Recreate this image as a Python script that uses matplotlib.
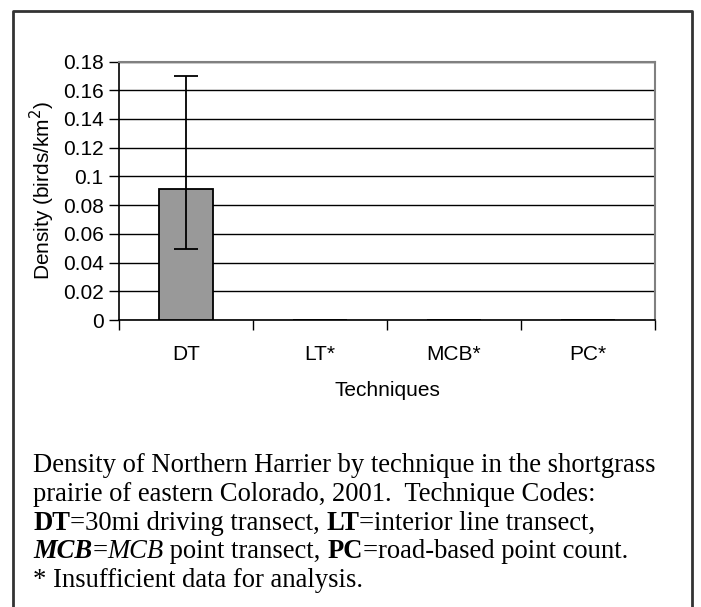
import matplotlib
matplotlib.use("Agg")
import matplotlib.pyplot as plt
from matplotlib.lines import Line2D
import numpy as np

categories = ["DT", "LT*", "MCB*", "PC*"]
density = [0.0915, 0.0, 0.0, 0.0]
err_low = [0.0424, 0.0, 0.0, 0.0]
err_high = [0.0781, 0.0, 0.0, 0.0]
yticks = [0, 0.02, 0.04, 0.06, 0.08, 0.1, 0.12, 0.14, 0.16, 0.18]
ytick_labels = ["0", "0.02", "0.04", "0.06", "0.08", "0.1", "0.12", "0.14", "0.16", "0.18"]

W, H = 701, 607
fig = plt.figure(figsize=(W / 100, H / 100), dpi=100)
sans = "Liberation Sans"
serif = "Liberation Serif"
FS = 15

ax = fig.add_axes([119 / W, 1 - 320 / H, (655 - 119) / W, (320 - 61.5) / H])
x = np.arange(len(categories))
ax.bar(x, density, width=0.40, color="#999999", edgecolor="black", linewidth=1.3, zorder=3)
has = [i for i, v in enumerate(density) if v > 0]
ax.errorbar([x[i] for i in has], [density[i] for i in has],
            yerr=[[err_low[i] for i in has], [err_high[i] for i in has]],
            fmt="none", ecolor="black", elinewidth=1.3, capsize=8.5, capthick=1.3, zorder=4)
ax.set_xlim(-0.5, len(categories) - 0.5)
ax.set_ylim(0, 0.18)
ax.set_yticks(yticks)
ax.set_yticklabels(ytick_labels, fontsize=FS, family=sans)
ax.yaxis.grid(True, color="black", linewidth=1.0, zorder=0)
ax.set_axisbelow(True)
ax.set_xticks(x)
ax.set_xticklabels(categories, fontsize=FS, family=sans)
ax.tick_params(axis="x", length=0, pad=18)
ax.set_xticks(np.arange(-0.5, len(categories), 1.0), minor=True)
ax.tick_params(axis="x", which="minor", length=7, width=1.0, direction="out", color="black")
ax.tick_params(axis="y", length=7, width=1.0, direction="out", pad=4)
ax.spines["left"].set_color("black")
ax.spines["bottom"].set_color("black")
ax.spines["left"].set_linewidth(1.2)
ax.spines["bottom"].set_linewidth(1.2)
ax.spines["top"].set_color("#808080")
ax.spines["right"].set_color("#808080")
ax.spines["top"].set_linewidth(1.5)
ax.spines["right"].set_linewidth(1.5)
ax.set_ylabel("Density (birds/km$^2$)", fontsize=FS, family=sans, labelpad=4)
ax.set_xlabel("Techniques", fontsize=FS, family=sans, labelpad=12)

# outer frame (open at the bottom)
frame = Line2D([13 / W, 13 / W, 691.5 / W, 691.5 / W], [0, 1 - 10.5 / H, 1 - 10.5 / H, 0],
               transform=fig.transFigure, color="#333333", linewidth=2.0)
fig.add_artist(frame)

# caption with mixed styles
caption = [
    [("Density of Northern Harrier by technique in the shortgrass", "normal", "normal")],
    [("prairie of eastern Colorado, 2001.  Technique Codes:", "normal", "normal")],
    [("DT", "bold", "normal"), ("=30mi driving transect, ", "normal", "normal"),
     ("LT", "bold", "normal"), ("=interior line transect,", "normal", "normal")],
    [("MCB", "bold", "italic"), ("=", "normal", "normal"), ("MCB", "normal", "italic"),
     (" point transect, ", "normal", "normal"), ("PC", "bold", "normal"),
     ("=road-based point count.", "normal", "normal")],
    [("* Insufficient data for analysis.", "normal", "normal")],
]
baselines = [472, 500.75, 529.5, 558.25, 587]
fig.canvas.draw()
renderer = fig.canvas.get_renderer()
for line, yb in zip(caption, baselines):
    xpix = 33
    for txt, weight, style in line:
        t = fig.text(xpix / W, 1 - yb / H, txt, fontsize=19.2, family=serif,
                     weight=weight, style=style, va="baseline", ha="left")
        bb = t.get_window_extent(renderer=renderer)
        xpix += bb.width

fig.savefig("out.png", dpi=100)
